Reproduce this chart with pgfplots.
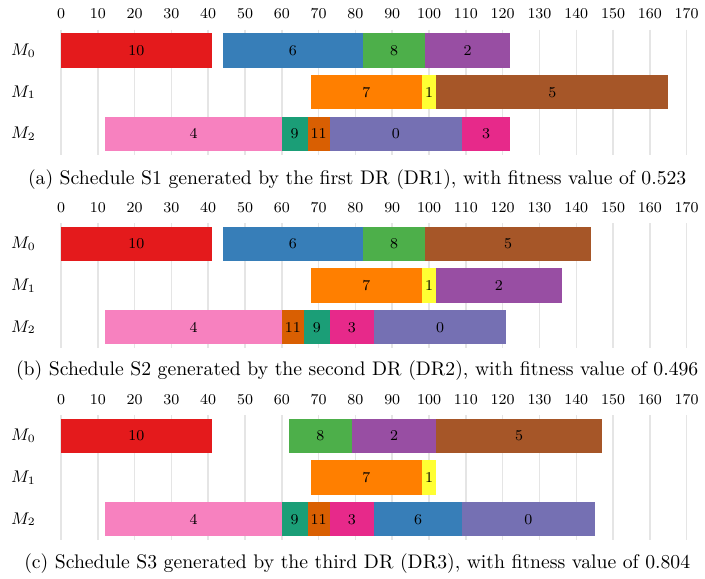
\documentclass[border=0pt]{standalone}
\usepackage{pgfplots}
\pgfplotsset{compat=1.18}
\definecolor{j0}{HTML}{7570B3}
\definecolor{j1}{HTML}{FFFF33}
\definecolor{j2}{HTML}{984EA3}
\definecolor{j3}{HTML}{E7298A}
\definecolor{j4}{HTML}{F781BF}
\definecolor{j5}{HTML}{A65628}
\definecolor{j6}{HTML}{377EB8}
\definecolor{j7}{HTML}{FF7F00}
\definecolor{j8}{HTML}{4DAF4A}
\definecolor{j9}{HTML}{1B9E77}
\definecolor{j10}{HTML}{E41A1C}
\definecolor{j11}{HTML}{D95F02}
% #1 row, #2 start, #3 end, #4 job
\newcommand\seg[4]{%
  \pgfmathsetmacro\ylo{#1-0.41}\pgfmathsetmacro\yhi{#1+0.41}\pgfmathsetmacro\xm{(#2+#3)/2}%
  \edef\doseg{\noexpand\addplot[fill=j#4,draw=none] coordinates {(#2,\ylo) (#3,\ylo) (#3,\yhi) (#2,\yhi)};
  \noexpand\addplot[draw=none,nodes near coords={#4}] coordinates {(\xm,#1)};}%
  \doseg}
\pgfplotsset{gantt/.style={
  scale only axis, width=333.7pt, height=66.7pt, anchor=north west,
  xmin=0, xmax=170, ymin=-0.5, ymax=2.5, y dir=reverse,
  xtick={0,10,...,170}, ytick={0,1,2}, yticklabels={$M_0$,$M_1$,$M_2$},
  xticklabel pos=upper, axis line style={draw=none}, major tick length=0pt,
  xmajorgrids, major grid style={gray!20, line width=0.8pt},
  xticklabel style={font=\footnotesize, anchor=base, inner sep=0pt, yshift=5.7pt},
  yticklabel style={font=\small, anchor=east, inner sep=0pt, xshift=-13.3pt},
  every node near coord/.append style={font=\footnotesize, anchor=center, text=black},
  nodes near coords align=center,
  axis on top=false, clip=false}}
\newcommand\capfont{\fontsize{10.5}{12.6}\selectfont}
\begin{document}
\begin{tikzpicture}
\useasboundingbox (0,0) rectangle (376pt,308.27pt);
% (a)
\begin{axis}[gantt, at={(32.53pt,292.46pt)}]
\seg{0}{0}{41}{10}
\seg{0}{44}{82}{6}
\seg{0}{82}{99}{8}
\seg{0}{99}{122}{2}
\seg{1}{68}{98}{7}
\seg{1}{98}{102}{1}
\seg{1}{102}{165}{5}
\seg{2}{12}{60}{4}
\seg{2}{60}{67}{9}
\seg{2}{67}{73}{11}
\seg{2}{73}{109}{0}
\seg{2}{109}{122}{3}
\end{axis}
% (b)
\begin{axis}[gantt, at={(32.53pt,189.36pt)}]
\seg{0}{0}{41}{10}
\seg{0}{44}{82}{6}
\seg{0}{82}{99}{8}
\seg{0}{99}{144}{5}
\seg{1}{68}{98}{7}
\seg{1}{98}{102}{1}
\seg{1}{102}{136}{2}
\seg{2}{12}{60}{4}
\seg{2}{60}{66}{11}
\seg{2}{66}{73}{9}
\seg{2}{73}{85}{3}
\seg{2}{85}{121}{0}
\end{axis}
% (c)
\begin{axis}[gantt, at={(32.53pt,86.96pt)}]
\seg{0}{0}{41}{10}
\seg{0}{62}{79}{8}
\seg{0}{79}{102}{2}
\seg{0}{102}{147}{5}
\seg{1}{68}{98}{7}
\seg{1}{98}{102}{1}
\seg{2}{12}{60}{4}
\seg{2}{60}{67}{9}
\seg{2}{67}{73}{11}
\seg{2}{73}{85}{3}
\seg{2}{85}{109}{6}
\seg{2}{109}{145}{0}
\end{axis}
\node[font=\capfont] at (190.5pt,212.27pt) {(a) Schedule S1 generated by the first DR (DR1), with fitness value of 0.523};
\node[font=\capfont] at (190.5pt,110.4pt) {(b) Schedule S2 generated by the second DR (DR2), with fitness value of 0.496};
\node[font=\capfont] at (190.5pt,7.77pt) {(c) Schedule S3 generated by the third DR (DR3), with fitness value of 0.804};
\end{tikzpicture}
\end{document}
